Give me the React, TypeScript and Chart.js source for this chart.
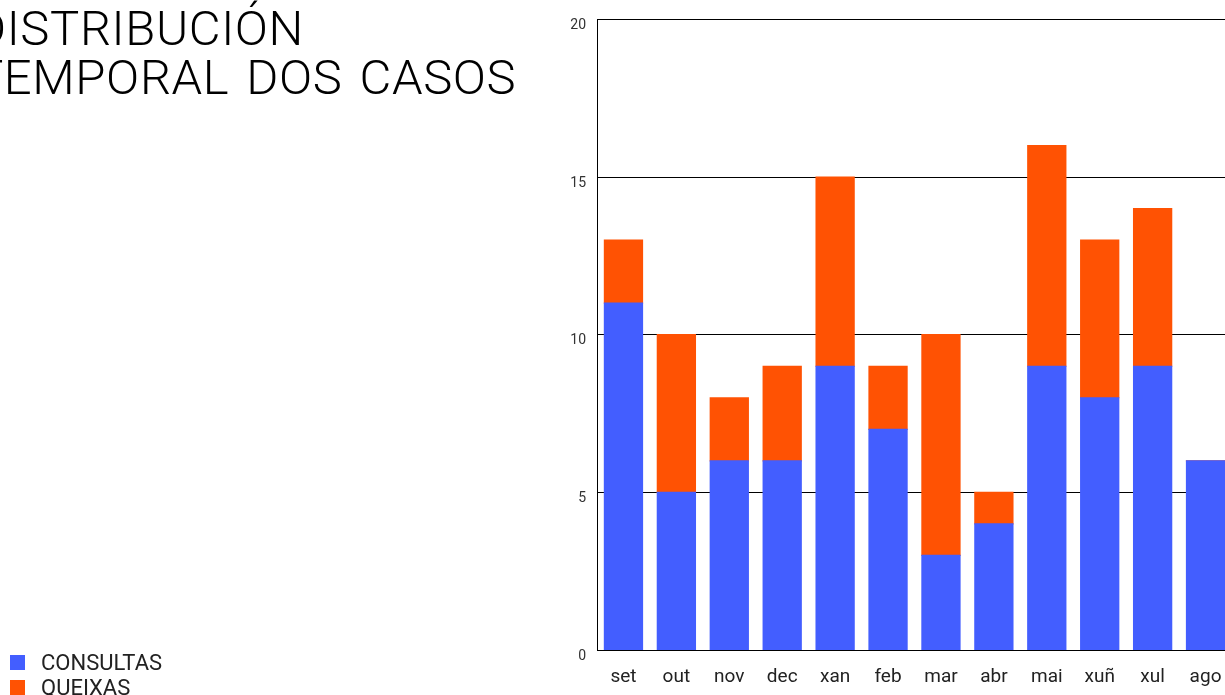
import React, { useEffect, useRef } from "react";
import { Chart, registerables } from "chart.js";

Chart.register(...registerables);

const titleLines = ["DISTRIBUCIÓN", "TEMPORAL DOS CASOS"];
const months = ["set", "out", "nov", "dec", "xan", "feb", "mar", "abr", "mai", "xuñ", "xul", "ago"];
const consultas = [11, 5, 6, 6, 9, 7, 3, 4, 9, 8, 9, 6];
const queixas = [2, 5, 2, 3, 6, 2, 7, 1, 7, 5, 5, 0];
const seriesNames = ["CONSULTAS", "QUEIXAS"];
const seriesColors = ["#435eff", "#ff5203"];
const yTicks = [0, 5, 10, 15, 20];

export default function App() {
  const ref = useRef<HTMLCanvasElement | null>(null);

  useEffect(() => {
    if (!ref.current) return;
    const chart = new Chart(ref.current, {
      type: "bar",
      data: {
        labels: months,
        datasets: [
          { label: seriesNames[0], data: consultas, backgroundColor: seriesColors[0], borderWidth: 0, inflateAmount: 0.6 },
          { label: seriesNames[1], data: queixas, backgroundColor: seriesColors[1], borderWidth: 0, inflateAmount: 0.6 },
        ],
      },
      options: {
        responsive: false,
        animation: false,
        layout: { padding: { top: 17, right: 28, left: 0, bottom: 0 } },
        plugins: { legend: { display: false }, title: { display: false }, tooltip: { enabled: false } },
        scales: {
          x: {
            stacked: true,
            offset: true,
            categoryPercentage: 1,
            barPercentage: 0.73,
            grid: { display: false, drawTicks: false },
            border: { display: true, color: "#000", width: 1 },
            ticks: { color: "#222", font: { family: "Roboto", size: 19 }, padding: 16, maxRotation: 0 },
            afterFit: (s: any) => { s.height = 45; },
          },
          y: {
            stacked: true,
            min: 0,
            max: 20,
            afterBuildTicks: (s: any) => { s.ticks = yTicks.map((v) => ({ value: v })); },
            grid: { color: "#000", lineWidth: 1, drawTicks: false },
            border: { display: true, color: "#000", width: 1 },
            ticks: { color: "#333", font: { family: "Roboto", size: 14 }, padding: 11, labelOffset: 6 },
            afterFit: (s: any) => { s.width = 597; },
          },
        },
      },
    } as any);
    return () => chart.destroy();
  }, []);

  return (
    <div style={{ position: "absolute", left: 0, top: 0, width: 1225, height: 695, overflow: "hidden", background: "#fff" }}>
      <canvas ref={ref} width={1260} height={695} style={{ position: "absolute", left: 0, top: 0 }} />
      <div
        style={{
          position: "absolute",
          left: -26,
          top: 4,
          fontFamily: "Roboto",
          fontWeight: 300,
          fontSize: 49,
          lineHeight: "49px",
          letterSpacing: "0.6px",
          wordSpacing: "4.5px",
          color: "#000",
          whiteSpace: "nowrap",
        }}
      >
        {titleLines.map((t, i) => (
          <div key={i}>{t}</div>
        ))}
      </div>
      <div style={{ position: "absolute", left: 10, top: 650, fontFamily: "Roboto", fontSize: 22, color: "#222" }}>
        {seriesNames.map((n, i) => (
          <div key={i} style={{ display: "flex", alignItems: "center", height: 25 }}>
            <span style={{ display: "inline-block", width: 15, height: 15, background: seriesColors[i], marginRight: 16 }} />
            <span>{n}</span>
          </div>
        ))}
      </div>
    </div>
  );
}
